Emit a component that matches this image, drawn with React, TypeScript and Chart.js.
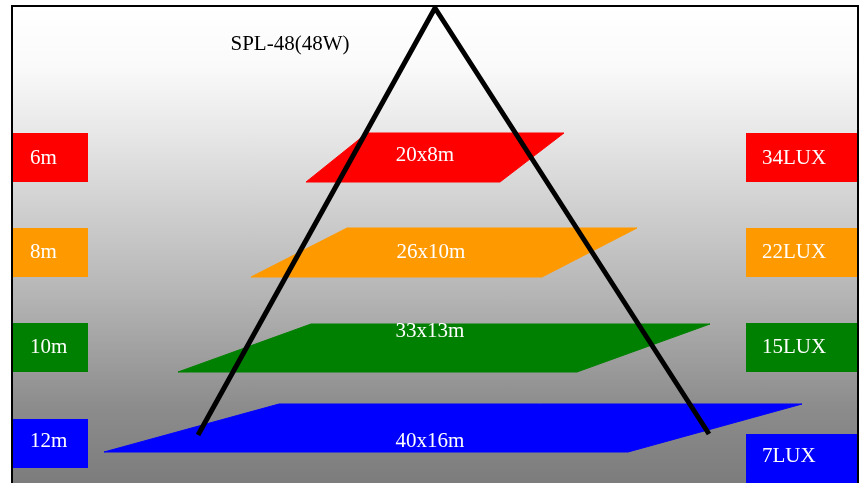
import React, { useEffect, useRef } from "react";
import { Chart, registerables } from "chart.js";

Chart.register(...registerables);

// ---- data (diagram units) ----
const title = "SPL-48(48W)";
const heights = ["6m", "8m", "10m", "12m"];
const areas = ["20x8m", "26x10m", "33x13m", "40x16m"];
const luxValues = ["34LUX", "22LUX", "15LUX", "7LUX"];
const levelColors = ["#ff0000", "#ff9900", "#008000", "#0000ff"];

// light-field parallelograms (top edge / bottom edge)
const fieldTopY = [133, 228, 324, 404];
const fieldBottomY = [182, 277, 372, 452];
const fieldTopLeft = [367, 347, 311, 279];
const fieldTopRight = [564, 637, 710, 802];
const fieldBottomLeft = [306, 251, 178, 104];
const fieldBottomRight = [500, 542, 577, 628];

// beam triangle
const beamX = [198, 435, 709];
const beamY = [435, 8, 434];

// side label boxes
const heightBoxX = [13, 88];
const heightBoxTop = [133, 228, 323, 419];
const heightBoxBottom = [182, 277, 372, 468];
const luxBoxX = [746, 857];
const luxBoxTop = [133, 228, 323, 434];
const luxBoxBottom = [182, 277, 372, 495];

// text anchors
const heightTextX = 30;
const heightTextY = [164, 258, 353, 447];
const luxTextX = 762;
const luxTextY = [164, 258, 353, 462];
const areaTextX = [425, 431, 430, 430];
const areaTextY = [161, 258, 337, 447];
const titlePos = { x: 290, y: 50 };

const W = 859;
const H = 483;

function rect(x0: number, x1: number, y0: number, y1: number) {
  return [
    { x: x0, y: y0 },
    { x: x1, y: y0 },
    { x: x1, y: y1 },
    { x: x0, y: y1 },
    { x: x0, y: y0 },
  ];
}

export default function App() {
  const ref = useRef<HTMLCanvasElement | null>(null);

  useEffect(() => {
    if (!ref.current) return;
    const FONT = '21px "Liberation Serif", "Times New Roman", serif';

    const datasets: any[] = [];
    datasets.push({
      label: "beam",
      data: beamX.map((x, i) => ({ x, y: beamY[i] })),
      borderColor: "#000000",
      borderWidth: 5,
      pointRadius: 0,
      fill: false,
      tension: 0,
      order: 0,
      borderJoinStyle: "bevel",
    });
    levelColors.forEach((c, i) => {
      datasets.push({
        label: "field" + i,
        data: [
          { x: fieldTopLeft[i], y: fieldTopY[i] },
          { x: fieldTopRight[i], y: fieldTopY[i] },
          { x: fieldBottomRight[i], y: fieldBottomY[i] },
          { x: fieldBottomLeft[i], y: fieldBottomY[i] },
          { x: fieldTopLeft[i], y: fieldTopY[i] },
        ],
        borderColor: c,
        borderWidth: 1,
        backgroundColor: c,
        pointRadius: 0,
        fill: "shape",
        tension: 0,
        order: 1,
      });
      datasets.push({
        label: "h" + i,
        data: rect(heightBoxX[0], heightBoxX[1], heightBoxTop[i], heightBoxBottom[i]),
        borderColor: c,
        borderWidth: 0,
        backgroundColor: c,
        pointRadius: 0,
        fill: "shape",
        tension: 0,
        order: 2,
      });
      datasets.push({
        label: "l" + i,
        data: rect(luxBoxX[0], luxBoxX[1], luxBoxTop[i], luxBoxBottom[i]),
        borderColor: c,
        borderWidth: 0,
        backgroundColor: c,
        pointRadius: 0,
        fill: "shape",
        tension: 0,
        order: 2,
      });
    });

    const textPlugin = {
      id: "texts",
      afterDatasetsDraw(chart: any) {
        const ctx = chart.ctx;
        const xs = chart.scales.x;
        const ys = chart.scales.y;
        ctx.save();
        ctx.font = FONT;
        ctx.textBaseline = "alphabetic";
        ctx.fillStyle = "#ffffff";
        ctx.textAlign = "left";
        heights.forEach((t, i) => {
          ctx.fillText(t, xs.getPixelForValue(heightTextX), ys.getPixelForValue(heightTextY[i]));
        });
        luxValues.forEach((t, i) => {
          ctx.fillText(t, xs.getPixelForValue(luxTextX), ys.getPixelForValue(luxTextY[i]));
        });
        ctx.textAlign = "center";
        areas.forEach((t, i) => {
          ctx.fillText(t, xs.getPixelForValue(areaTextX[i]), ys.getPixelForValue(areaTextY[i]));
        });
        ctx.fillStyle = "#000000";
        ctx.fillText(title, xs.getPixelForValue(titlePos.x), ys.getPixelForValue(titlePos.y));
        ctx.restore();
      },
    };

    const chart = new Chart(ref.current, {
      type: "line",
      data: { datasets },
      options: {
        animation: false,
        responsive: false,
        maintainAspectRatio: false,
        layout: { padding: 0 },
        plugins: { legend: { display: false }, tooltip: { enabled: false } },
        scales: {
          x: { type: "linear", min: 0, max: W, display: false },
          y: { type: "linear", min: 0, max: H, reverse: true, display: false },
        },
      } as any,
      plugins: [textPlugin],
    });
    return () => chart.destroy();
  }, []);

  return (
    <div style={{ position: "fixed", left: 0, top: 0, width: W, height: H, overflow: "hidden" }}>
      <div
        style={{
          position: "absolute",
          left: 11,
          top: 5,
          width: 848,
          height: 600,
          boxSizing: "border-box",
          border: "2px solid #000",
          background: "linear-gradient(to bottom, #ffffff 0px, #fafafa 60px, #e6e6e6 130px, #b4b4b4 290px, #8c8c8c 400px, #7c7c7c 478px, #777777 600px)",
        }}
      />
      <canvas
        ref={ref}
        width={W}
        height={H}
        style={{ position: "absolute", left: 0, top: 0, width: W, height: H }}
      />
    </div>
  );
}
